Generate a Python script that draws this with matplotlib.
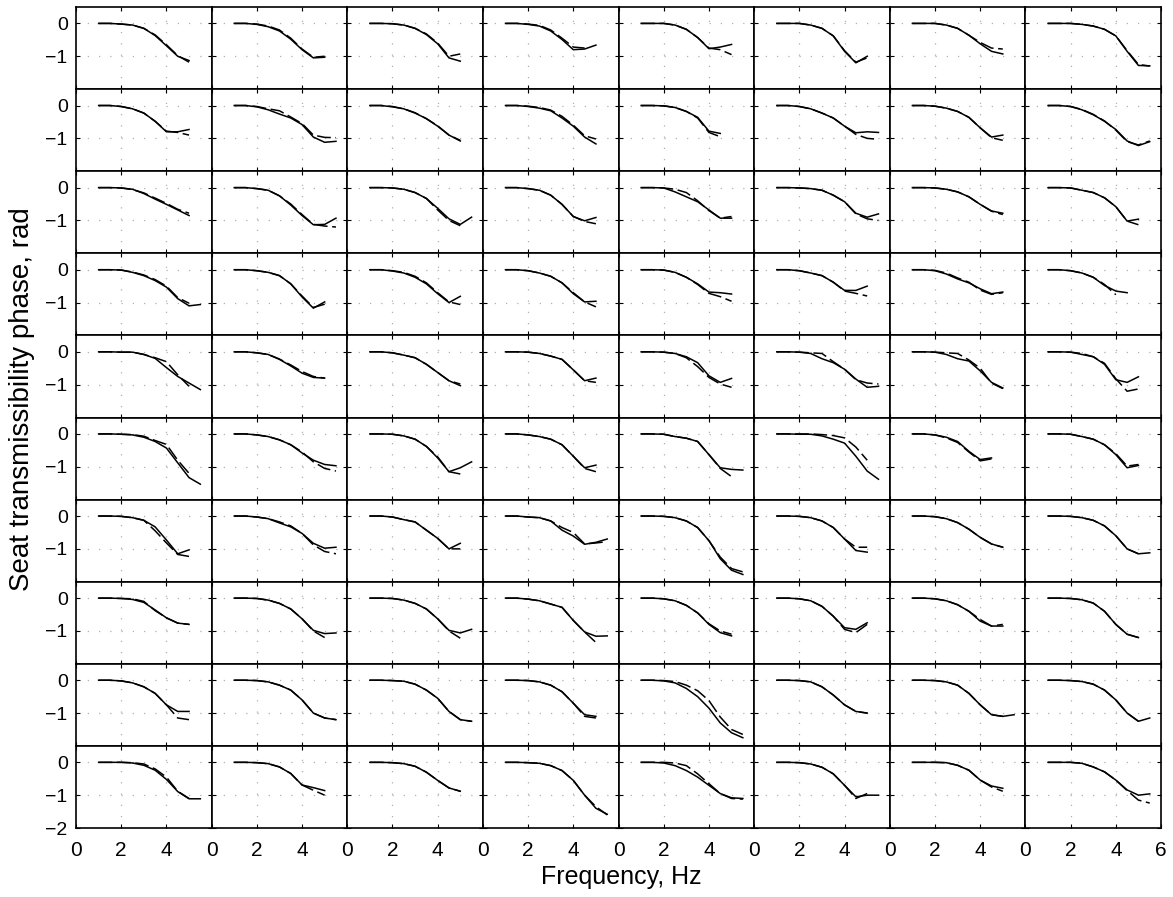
import matplotlib
matplotlib.use('Agg')  # no display in the sandbox
import numpy as np
import matplotlib.pyplot as plt

FREQ = [1.0, 1.5, 2.0, 2.5, 3.0, 3.5, 4.0, 4.5, 5.0, 5.5]

# One list per panel (8 panels a row); a curve stops where its list stops
SOLID_R0 = [
    [0, 0, -0.02, -0.05, -0.15, -0.37, -0.68, -1.0, -1.13],
    [0, 0, -0.03, -0.1, -0.23, -0.48, -0.8, -1.05, -1.03],
    [0, 0, -0.01, -0.05, -0.15, -0.34, -0.62, -1.05, -1.15],
    [0, 0, -0.03, -0.08, -0.23, -0.49, -0.8, -0.78, -0.66],
    [0, 0, 0, -0.05, -0.18, -0.43, -0.77, -0.72, -0.64],
    [0, 0, 0, -0.05, -0.15, -0.38, -0.85, -1.2, -1.0],
    [0, 0, 0, -0.05, -0.15, -0.36, -0.62, -0.85, -0.93],
    [0, 0, 0, -0.03, -0.08, -0.18, -0.38, -0.85, -1.28, -1.29],
]
DASHED_R0 = [
    [0, 0, -0.02, -0.05, -0.15, -0.35, -0.65, -0.98, -1.18],
    [0, 0, -0.02, -0.08, -0.2, -0.45, -0.78, -1.03, -1.0],
    [0, 0, -0.01, -0.05, -0.15, -0.32, -0.6, -1.0, -0.93],
    [0, 0, -0.02, -0.06, -0.2, -0.45, -0.72, -0.75],
    [0, 0, 0, -0.05, -0.18, -0.43, -0.75, -0.8, -0.95],
    [0, 0, 0, -0.05, -0.15, -0.38, -0.83, -1.18, -1.05],
    [0, 0, 0, -0.05, -0.15, -0.36, -0.58, -0.75, -0.78],
    [0, 0, 0, -0.03, -0.08, -0.18, -0.38, -0.83, -1.25, -1.3],
]
SOLID_R1 = [
    [0, 0, -0.03, -0.1, -0.23, -0.48, -0.8, -0.8, -0.73],
    [0, 0, -0.04, -0.13, -0.26, -0.38, -0.58, -0.96, -1.12, -1.09],
    [0, 0, -0.04, -0.1, -0.23, -0.4, -0.63, -0.9, -1.08],
    [0, 0, -0.03, -0.08, -0.16, -0.38, -0.63, -0.96, -1.17],
    [0, 0, -0.01, -0.06, -0.18, -0.36, -0.78, -0.85],
    [0, 0, -0.03, -0.1, -0.23, -0.38, -0.63, -0.83, -0.8, -0.82],
    [0, 0, -0.02, -0.08, -0.18, -0.36, -0.68, -0.96, -0.9],
    [0, 0, -0.03, -0.13, -0.28, -0.48, -0.73, -1.08, -1.22, -1.1],
]
DASHED_R1 = [
    [0, 0, -0.03, -0.1, -0.23, -0.48, -0.78, -0.82, -0.9],
    [0, 0, -0.03, -0.1, -0.16, -0.35, -0.55, -0.9, -0.97, -0.98],
    [0, 0, -0.03, -0.1, -0.22, -0.4, -0.62, -0.9, -1.06],
    [0, 0, -0.02, -0.06, -0.14, -0.33, -0.6, -0.92, -1.02],
    [0, 0, -0.01, -0.06, -0.18, -0.38, -0.82, -0.95],
    [0, 0, -0.03, -0.1, -0.23, -0.38, -0.63, -0.88, -1.0, -1.03],
    [0, 0, -0.02, -0.08, -0.18, -0.36, -0.68, -0.98, -1.06],
    [0, 0, -0.03, -0.12, -0.27, -0.47, -0.75, -1.1, -1.2, -1.08],
]
SOLID_R2 = [
    [0, 0, -0.01, -0.05, -0.18, -0.35, -0.51, -0.68, -0.85],
    [0, 0, -0.03, -0.08, -0.25, -0.53, -0.85, -1.13, -1.12, -0.93],
    [0, 0, -0.01, -0.05, -0.15, -0.33, -0.63, -0.95, -1.12, -0.9],
    [0, 0, -0.03, -0.08, -0.23, -0.51, -0.88, -1.01, -0.91],
    [0, 0, -0.01, -0.13, -0.28, -0.43, -0.68, -0.93, -0.93],
    [0, 0, -0.01, -0.03, -0.08, -0.23, -0.43, -0.78, -0.9, -0.8],
    [0, 0, -0.01, -0.05, -0.13, -0.28, -0.51, -0.71, -0.78],
    [0, 0, -0.01, -0.08, -0.15, -0.31, -0.58, -1.02, -0.96],
]
DASHED_R2 = [
    [0, 0, -0.01, -0.06, -0.16, -0.32, -0.48, -0.66, -0.78],
    [0, 0, -0.03, -0.08, -0.25, -0.5, -0.82, -1.12, -1.17, -1.2],
    [0, 0, -0.01, -0.05, -0.15, -0.33, -0.68, -1.0, -1.16],
    [0, 0, -0.03, -0.08, -0.23, -0.51, -0.88, -1.03, -1.1],
    [0, 0, -0.01, -0.05, -0.15, -0.4, -0.7, -0.93, -0.88],
    [0, 0, -0.01, -0.03, -0.08, -0.23, -0.43, -0.8, -0.95, -1.0],
    [0, 0, -0.01, -0.05, -0.13, -0.28, -0.51, -0.72, -0.82],
    [0, 0, -0.01, -0.08, -0.15, -0.31, -0.58, -1.02, -1.13],
]
SOLID_R3 = [
    [0, 0, -0.01, -0.08, -0.18, -0.33, -0.53, -0.88, -1.1, -1.06],
    [0, 0, -0.03, -0.08, -0.18, -0.43, -0.83, -1.17, -0.98],
    [0, 0, -0.04, -0.1, -0.23, -0.43, -0.73, -1.0, -0.81],
    [0, 0, -0.03, -0.1, -0.2, -0.4, -0.73, -0.98, -0.96],
    [0, 0, -0.01, -0.08, -0.23, -0.43, -0.68, -0.7, -0.74],
    [0, 0, -0.03, -0.1, -0.18, -0.38, -0.63, -0.63, -0.5],
    [0, 0, -0.03, -0.13, -0.28, -0.4, -0.58, -0.73, -0.68],
    [0, 0, -0.03, -0.1, -0.23, -0.48, -0.65, -0.7],
]
DASHED_R3 = [
    [0, 0, -0.01, -0.07, -0.16, -0.3, -0.5, -0.85, -1.02],
    [0, 0, -0.03, -0.08, -0.18, -0.43, -0.8, -1.15, -1.05],
    [0, 0, -0.03, -0.08, -0.2, -0.4, -0.7, -0.98, -1.06],
    [0, 0, -0.03, -0.1, -0.2, -0.4, -0.7, -0.98, -1.13],
    [0, 0, -0.01, -0.08, -0.23, -0.45, -0.72, -0.82, -0.96],
    [0, 0, -0.03, -0.1, -0.18, -0.38, -0.65, -0.72, -0.8],
    [0, 0, -0.02, -0.1, -0.25, -0.38, -0.62, -0.75, -0.7],
    [0, 0, -0.03, -0.1, -0.23, -0.45, -0.76],
]
SOLID_R4 = [
    [0, 0, -0.01, -0.01, -0.08, -0.2, -0.48, -0.75, -0.95, -1.15],
    [0, 0, -0.03, -0.08, -0.23, -0.43, -0.65, -0.78, -0.8],
    [0, 0, -0.03, -0.1, -0.18, -0.38, -0.63, -0.88, -1.03],
    [0, 0, -0.01, -0.05, -0.13, -0.23, -0.55, -0.88, -0.8],
    [0, 0, -0.01, -0.05, -0.15, -0.33, -0.73, -0.93, -0.81],
    [0, 0, -0.01, -0.05, -0.21, -0.33, -0.53, -0.83, -1.08, -1.05],
    [0, 0, -0.01, -0.08, -0.21, -0.28, -0.58, -0.93, -1.1],
    [0, 0, -0.01, -0.08, -0.15, -0.38, -0.85, -0.93, -0.76],
]
DASHED_R4 = [
    [0, 0, -0.01, -0.01, -0.08, -0.18, -0.3, -0.7, -1.05],
    [0, 0, -0.03, -0.08, -0.22, -0.4, -0.6, -0.75, -0.8],
    [0, 0, -0.03, -0.1, -0.18, -0.38, -0.63, -0.88, -0.98],
    [0, 0, -0.01, -0.05, -0.13, -0.23, -0.55, -0.88, -0.93],
    [0, 0, -0.01, -0.05, -0.18, -0.45, -0.78, -0.98, -1.08],
    [0, 0, -0.01, -0.03, -0.05, -0.3, -0.53, -0.85, -0.95, -0.98],
    [0, 0, -0.01, -0.03, -0.05, -0.25, -0.5, -0.95, -1.12],
    [0, 0, -0.01, -0.05, -0.15, -0.35, -0.82, -1.2, -1.13],
]
SOLID_R5 = [
    [0, 0, -0.01, -0.03, -0.1, -0.23, -0.43, -0.88, -1.33, -1.53],
    [0, 0, -0.03, -0.08, -0.18, -0.33, -0.58, -0.8, -0.93, -0.97],
    [0, 0, -0.01, -0.06, -0.16, -0.38, -0.73, -1.15, -1.03, -0.85],
    [0, 0, -0.03, -0.08, -0.16, -0.33, -0.68, -1.03, -0.95],
    [0, 0, -0.01, -0.08, -0.13, -0.23, -0.63, -1.03, -1.08, -1.1],
    [0, 0, -0.01, -0.01, -0.06, -0.16, -0.28, -0.68, -1.13, -1.38],
    [0, 0, -0.03, -0.1, -0.23, -0.53, -0.78, -0.73],
    [0, 0, -0.01, -0.08, -0.16, -0.33, -0.63, -1.03, -0.96],
]
DASHED_R5 = [
    [0, 0, -0.01, -0.02, -0.07, -0.2, -0.32, -0.8, -1.2],
    [0, 0, -0.03, -0.08, -0.18, -0.33, -0.55, -0.85, -1.05, -1.13],
    [0, 0, -0.01, -0.06, -0.16, -0.38, -0.7, -1.15, -1.22],
    [0, 0, -0.03, -0.08, -0.16, -0.33, -0.68, -1.05, -1.15],
    [0, 0, -0.01, -0.08, -0.13, -0.23, -0.63, -1.05, -1.3],
    [0, 0, 0, 0, -0.02, -0.05, -0.12, -0.4, -0.8],
    [0, 0, -0.03, -0.12, -0.26, -0.55, -0.82, -0.76],
    [0, 0, -0.01, -0.08, -0.16, -0.33, -0.6, -0.98, -0.93],
]
SOLID_R6 = [
    [0, 0, -0.01, -0.05, -0.13, -0.33, -0.73, -1.15, -1.03],
    [0, 0, -0.03, -0.08, -0.21, -0.33, -0.53, -0.83, -0.98, -0.95],
    [0, 0, -0.03, -0.11, -0.18, -0.43, -0.68, -1.0, -0.83],
    [0, 0, -0.03, -0.05, -0.15, -0.43, -0.61, -0.86, -0.8, -0.7],
    [0, 0, -0.01, -0.05, -0.15, -0.35, -0.75, -1.3, -1.65, -1.78],
    [0, 0, -0.01, -0.05, -0.15, -0.35, -0.7, -1.05, -1.1],
    [0, 0, -0.02, -0.08, -0.2, -0.4, -0.65, -0.85, -0.95],
    [0, 0, -0.01, -0.05, -0.13, -0.3, -0.6, -1.0, -1.15, -1.12],
]
DASHED_R6 = [
    [0, 0, -0.01, -0.05, -0.13, -0.45, -0.82, -1.17, -1.23],
    [0, 0, -0.03, -0.08, -0.18, -0.3, -0.53, -0.88, -1.08, -1.15],
    [0, 0, -0.03, -0.11, -0.18, -0.43, -0.68, -1.0, -1.0],
    [0, 0, -0.03, -0.05, -0.15, -0.35, -0.5, -0.85, -0.82, -0.78],
    [0, 0, -0.01, -0.05, -0.15, -0.35, -0.75, -1.25, -1.6, -1.7],
    [0, 0, -0.01, -0.05, -0.15, -0.35, -0.7, -0.95, -0.95],
    [0, 0, -0.02, -0.08, -0.2, -0.4, -0.65, -0.85, -0.95],
    [0, 0, -0.01, -0.05, -0.13, -0.3, -0.6, -1.0, -1.15],
]
SOLID_R7 = [
    [0, 0, -0.01, -0.04, -0.13, -0.36, -0.6, -0.76, -0.8],
    [0, 0, -0.01, -0.06, -0.16, -0.33, -0.63, -0.98, -1.08, -1.06],
    [0, 0, -0.01, -0.06, -0.16, -0.33, -0.63, -0.98, -1.06, -0.95],
    [0, 0, -0.03, -0.08, -0.18, -0.28, -0.68, -1.03, -1.16, -1.15],
    [0, 0, -0.02, -0.08, -0.22, -0.45, -0.8, -1.05, -1.15],
    [0, 0, -0.02, -0.08, -0.25, -0.55, -0.9, -0.95, -0.75],
    [0, 0, -0.02, -0.08, -0.2, -0.4, -0.7, -0.85, -0.85],
    [0, 0, -0.01, -0.05, -0.15, -0.4, -0.8, -1.1, -1.2],
]
DASHED_R7 = [
    [0, 0, -0.01, -0.02, -0.1, -0.38, -0.6, -0.76, -0.8],
    [0, 0, -0.01, -0.06, -0.16, -0.33, -0.63, -1.0, -1.2],
    [0, 0, -0.01, -0.06, -0.16, -0.33, -0.63, -1.0, -1.22],
    [0, 0, -0.03, -0.08, -0.18, -0.28, -0.68, -1.03, -1.35],
    [0, 0, -0.02, -0.08, -0.22, -0.45, -0.78, -1.0, -1.1],
    [0, 0, -0.02, -0.08, -0.25, -0.55, -0.95, -1.05, -0.8],
    [0, 0, -0.02, -0.08, -0.2, -0.4, -0.65, -0.85, -0.8],
    [0, 0, -0.01, -0.05, -0.15, -0.4, -0.8, -1.1, -1.2],
]
SOLID_R8 = [
    [0, 0, -0.02, -0.08, -0.2, -0.4, -0.75, -0.95, -0.95],
    [0, 0, -0.01, -0.05, -0.15, -0.3, -0.6, -1.0, -1.15, -1.2],
    [0, 0, -0.01, -0.03, -0.12, -0.3, -0.55, -0.95, -1.2, -1.25],
    [0, 0, -0.01, -0.05, -0.15, -0.35, -0.7, -1.05, -1.1],
    [0, 0, -0.02, -0.08, -0.25, -0.5, -0.85, -1.3, -1.6, -1.75],
    [0, 0, -0.01, -0.05, -0.2, -0.45, -0.75, -0.95, -1.0],
    [0, 0, -0.01, -0.05, -0.15, -0.4, -0.75, -1.05, -1.1, -1.05],
    [0, 0, -0.01, -0.04, -0.12, -0.3, -0.6, -1.0, -1.25, -1.15],
]
DASHED_R8 = [
    [0, 0, -0.02, -0.08, -0.2, -0.4, -0.75, -1.15, -1.2],
    [0, 0, -0.01, -0.05, -0.15, -0.3, -0.6, -1.0, -1.15, -1.2],
    [0, 0, -0.01, -0.03, -0.12, -0.3, -0.55, -0.95, -1.2, -1.25],
    [0, 0, -0.01, -0.05, -0.15, -0.35, -0.7, -1.1, -1.15],
    [0, 0, -0.01, -0.04, -0.15, -0.32, -0.62, -1.12, -1.5, -1.65],
    [0, 0, -0.01, -0.05, -0.2, -0.45, -0.75, -0.95, -1.0],
    [0, 0, -0.01, -0.05, -0.15, -0.4, -0.75, -1.05, -1.1],
    [0, 0, -0.01, -0.04, -0.12, -0.3, -0.6, -1.0, -1.25],
]
SOLID_R9 = [
    [0, 0, 0, -0.02, -0.09, -0.24, -0.52, -0.89, -1.11, -1.11],
    [0, 0, -0.01, -0.04, -0.14, -0.34, -0.69, -0.77, -0.86],
    [0, 0, -0.01, -0.04, -0.12, -0.3, -0.55, -0.78, -0.88],
    [0, 0, -0.01, -0.03, -0.1, -0.25, -0.55, -1.0, -1.4, -1.58],
    [0, 0, -0.02, -0.1, -0.25, -0.45, -0.7, -0.95, -1.08, -1.1],
    [0, 0, -0.01, -0.05, -0.15, -0.35, -0.7, -1.05, -1.0, -1.0],
    [0, 0, 0, -0.01, -0.09, -0.24, -0.54, -0.72, -0.79],
    [0, 0, 0, -0.03, -0.14, -0.29, -0.54, -0.84, -1.0, -0.96],
]
DASHED_R9 = [
    [0, 0, 0, -0.01, -0.05, -0.2, -0.45, -0.88, -1.1],
    [0, 0, -0.01, -0.04, -0.14, -0.34, -0.69, -0.85, -1.0],
    [0, 0, -0.01, -0.04, -0.12, -0.3, -0.55, -0.78, -0.88],
    [0, 0, -0.01, -0.03, -0.1, -0.25, -0.55, -1.0, -1.35, -1.6],
    [0, 0, 0, -0.02, -0.1, -0.35, -0.65, -0.95, -1.1, -1.12],
    [0, 0, -0.01, -0.05, -0.15, -0.35, -0.7, -1.1, -0.95],
    [0, 0, 0, -0.01, -0.09, -0.24, -0.54, -0.75, -0.88],
    [0, 0, 0, -0.03, -0.14, -0.29, -0.54, -0.86, -1.15, -1.24],
]

SOLID = [SOLID_R0, SOLID_R1, SOLID_R2, SOLID_R3, SOLID_R4,
         SOLID_R5, SOLID_R6, SOLID_R7, SOLID_R8, SOLID_R9]
DASHED = [DASHED_R0, DASHED_R1, DASHED_R2, DASHED_R3, DASHED_R4,
          DASHED_R5, DASHED_R6, DASHED_R7, DASHED_R8, DASHED_R9]

plt.rcParams['font.family'] = ['Liberation Sans', 'DejaVu Sans']
plt.rcParams['axes.unicode_minus'] = True

n_rows, n_cols = 10, 8
fig, axes = plt.subplots(n_rows, n_cols, figsize=(11.73, 8.97), dpi=100,
                         gridspec_kw=dict(hspace=0, wspace=0))
fig.subplots_adjust(left=0.0648, right=0.9898, top=0.9922, bottom=0.0769)

for r in range(n_rows):
    for c in range(n_cols):
        ax = axes[r, c]
        # dotted grid
        for gx in (2, 4):
            ax.axvline(gx, color='#b0b0b0', lw=0.9, ls=(0, (1, 8)), zorder=0)
        for gy in (0, -1):
            ax.axhline(gy, color='#b0b0b0', lw=0.9, ls=(0, (1, 8)), zorder=0)

        s = SOLID[r][c]
        d = DASHED[r][c]
        ax.plot(FREQ[:len(d)], d, color='black', lw=1.1, ls=(0, (9, 3)))
        ax.plot(FREQ[:len(s)], s, color='black', lw=1.1)

        ax.set_xlim(0, 6)
        ax.set_ylim(-2, 0.5)
        ax.set_xticks([0, 2, 4, 6])
        ax.set_xticklabels(['0', '2', '4', '6' if c == n_cols - 1 else ''])
        ax.set_yticks([-2, -1, 0])
        ax.set_yticklabels(['\u22122' if r == n_rows - 1 else '', '\u22121', '0'])
        ax.tick_params(direction='in', length=3, width=0.8, top=True, right=True)
        ax.tick_params(axis='x', labelbottom=(r == n_rows - 1), labelsize=15, pad=9)
        ax.tick_params(axis='y', labelleft=(c == 0), labelsize=14, pad=6)
        for sp in ax.spines.values():
            sp.set_linewidth(1.2)

fig.text(0.53, 0.022, 'Frequency, Hz', ha='center', va='center', fontsize=18)
fig.text(0.019, 0.555, 'Seat transmissibility phase, rad', ha='center', va='center',
         rotation=90, fontsize=20)

plt.savefig('out.png', dpi=100)
plt.close()
